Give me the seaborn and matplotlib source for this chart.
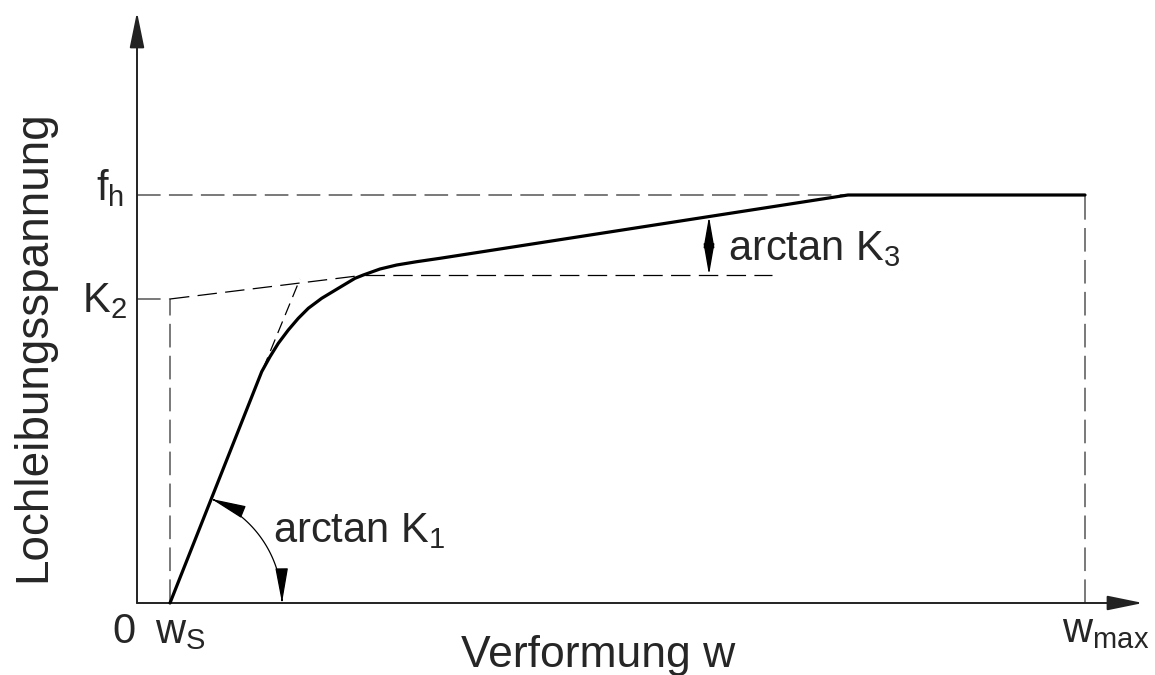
import numpy as np
import pandas as pd
import matplotlib
matplotlib.use("Agg")
import matplotlib.pyplot as plt
from matplotlib.patches import FancyArrowPatch
from matplotlib.path import Path
import seaborn as sns

# Characteristic values of the bearing-stress model (schematic units)
w_s = 0.33
w_max = 9.48
K2 = 3.04
f_h = 4.08

# Embedding (bearing) stress curve: linear start, transition, hardening branch, plateau
curve_w = [0.33, 1.247, 1.330, 1.413, 1.513, 1.613, 1.713, 1.847, 1.930, 2.013,
           2.180, 2.263, 2.430, 2.597, 2.797, 3.030, 7.11, 9.48]
curve_s = [0.00, 2.313, 2.463, 2.597, 2.730, 2.847, 2.947, 3.047, 3.097, 3.147,
           3.247, 3.280, 3.340, 3.380, 3.413, 3.447, 4.08, 4.08]

# Construction lines
k1_tangent_w = [1.26, 1.63]
k1_tangent_s = [2.34, 3.24]
k2_line_w = [0.33, 2.28]
k2_line_s = [3.04, 3.28]
k3_ref_w = [2.28, 6.35]
k3_ref_s = [3.28, 3.28]
fh_line_w = [0.0, 7.11]
k3_arrow_w = 5.72
k3_arrow_s = [3.28, 3.865]
k1_arc_radius = 1.12

sns.set_theme(style="white")
plt.rcParams["font.family"] = ["Liberation Sans", "DejaVu Sans"]
plt.rcParams["mathtext.fontset"] = "custom"
plt.rcParams["mathtext.rm"] = "Liberation Sans"
plt.rcParams["lines.scale_dashes"] = False

fig = plt.figure(figsize=(11.55, 6.75), dpi=100)
ax = fig.add_axes([0, 0, 1, 1])
ax.set_xlim(-1.37, 10.18)
ax.set_ylim(-0.72, 6.03)
ax.axis("off")

df = pd.DataFrame({"w": curve_w, "s": curve_s})
sns.lineplot(data=df, x="w", y="s", ax=ax, sort=False, estimator=None,
             color="black", lw=2.3, solid_joinstyle="round", zorder=5)

gray = "#555555"
dash_gray = (0, (17, 6))
ax.plot(fh_line_w, [f_h, f_h], color=gray, lw=1.1, ls=dash_gray)
ax.plot([0, w_s], [K2, K2], color=gray, lw=1.1, ls=dash_gray)
ax.plot([w_s, w_s], [0, K2], color=gray, lw=1.1, ls=dash_gray)
ax.plot([w_max, w_max], [0, f_h], color=gray, lw=1.1, ls=dash_gray)
ax.plot(k2_line_w, k2_line_s, color="black", lw=0.9, ls=(0, (14, 6)))
ax.plot(k3_ref_w, k3_ref_s, color="black", lw=0.9, ls=(0, (14, 6)))
ax.plot(k1_tangent_w, k1_tangent_s, color="black", lw=0.9, ls=(0, (9, 5)))

# Coordinate axes with arrow heads
axis_kw = dict(arrowstyle="-|>,head_length=2.2,head_width=0.45", color="#222222",
               lw=1.4, shrinkA=0, shrinkB=0, mutation_scale=10)
ax.annotate("", xy=(0, 5.91), xytext=(0, 0), arrowprops=axis_kw)
ax.annotate("", xy=(10.06, 0), xytext=(0, 0), arrowprops=axis_kw)

# Angle arc for K1, centred at w_s
slope_k1 = (curve_s[1] - curve_s[0]) / (curve_w[1] - curve_w[0])
theta0 = np.arctan(slope_k1)
theta = np.linspace(theta0, 0, 60)
arc = np.column_stack([w_s + k1_arc_radius * np.cos(theta), k1_arc_radius * np.sin(theta)])
arc_patch = FancyArrowPatch(path=Path(arc), arrowstyle="<|-|>,head_length=2.2,head_width=0.4",
                            mutation_scale=10, color="black", lw=0.9)
ax.add_patch(arc_patch)

# Angle marker for K3: two heads meeting near the middle
k3_mid = 0.5 * (k3_arrow_s[0] + k3_arrow_s[1])
k3_kw = dict(arrowstyle="-|>,head_length=1.95,head_width=0.34", mutation_scale=10,
             color="black", lw=1.0, shrinkA=0, shrinkB=0)
ax.annotate("", xy=(k3_arrow_w, k3_arrow_s[1]), xytext=(k3_arrow_w, k3_mid), arrowprops=k3_kw)
ax.annotate("", xy=(k3_arrow_w, k3_arrow_s[0]), xytext=(k3_arrow_w, k3_mid), arrowprops=k3_kw)

fs = 30
ax.text(-0.25, -0.40, "0", fontsize=fs, ha="left", va="baseline")
ax.text(0.18, -0.40, r"w$_{\mathregular{S}}$", fontsize=fs, ha="left", va="baseline")
ax.text(9.25, -0.39, r"w$_{\mathregular{max}}$", fontsize=fs, ha="left", va="baseline")
ax.text(-0.13, 4.03, r"f$_{\mathregular{h}}$", fontsize=fs, ha="right", va="baseline")
ax.text(-0.10, 2.91, r"K$_{\mathregular{2}}$", fontsize=fs, ha="right", va="baseline")
ax.text(1.36, 0.61, r"arctan K$_{\mathregular{1}}$", fontsize=fs, ha="left", va="baseline")
ax.text(5.91, 3.43, r"arctan K$_{\mathregular{3}}$", fontsize=fs, ha="left", va="baseline")
ax.text(4.61, -0.635, "Verformung w", fontsize=32, ha="center", va="baseline")
ax.text(-1.04, 2.57, "Lochleibungsspannung", fontsize=33, ha="center", va="center",
        rotation=90)

fig.savefig("out.png", dpi=100)
